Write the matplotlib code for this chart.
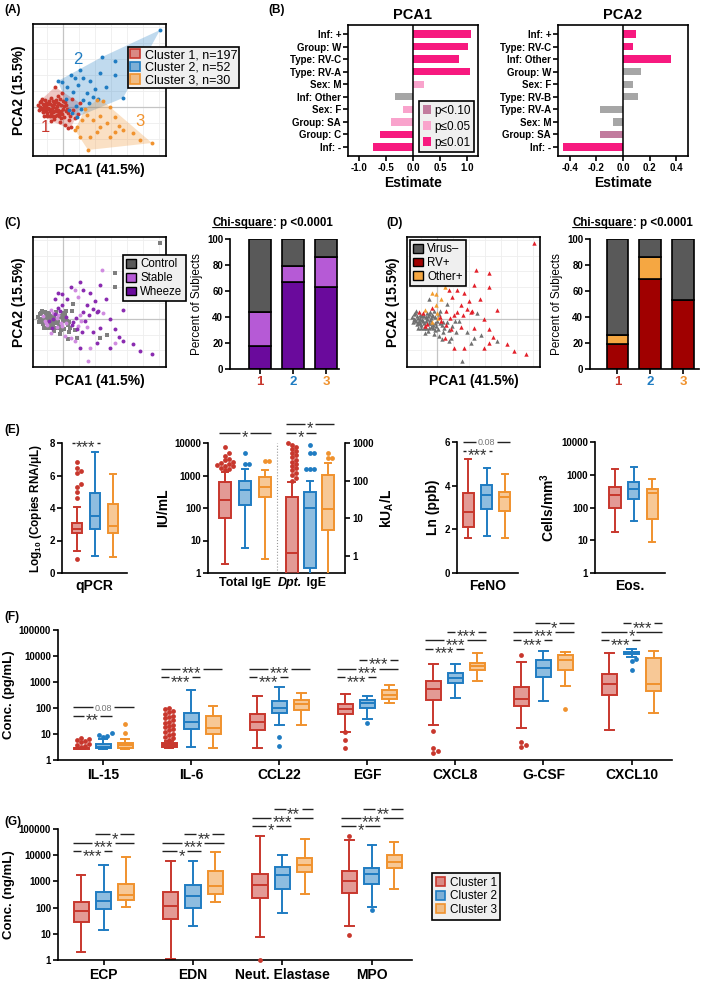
import matplotlib
matplotlib.use("Agg")
import matplotlib.pyplot as plt
import numpy as np
from matplotlib.patches import Patch
from matplotlib.colors import to_rgba
from matplotlib.ticker import NullLocator

plt.rcParams['font.family'] = ['Liberation Sans', 'DejaVu Sans']
plt.rcParams['font.weight'] = 'bold'
plt.rcParams['axes.labelweight'] = 'bold'
plt.rcParams['axes.titleweight'] = 'bold'
plt.rcParams['mathtext.fontset'] = 'custom'
plt.rcParams['mathtext.rm'] = 'Liberation Sans:bold'
plt.rcParams['mathtext.bf'] = 'Liberation Sans:bold'
plt.rcParams['mathtext.it'] = 'Liberation Sans:italic'
plt.rcParams['axes.linewidth'] = 1.2
for a in ('xtick', 'ytick'):
    plt.rcParams[a + '.major.width'] = 1.2
    plt.rcParams[a + '.major.size'] = 3.5
    plt.rcParams[a + '.major.pad'] = 1.5
    plt.rcParams[a + '.labelsize'] = 7

# ---------------- data ----------------
# PCA scores per cluster, with subject group (C/S/W) and virus (N/R/O) codes
c1_pc1 = [-2.5, -2.3, -2.2, -2.0, -1.9, -1.8, -1.7, -1.6, -1.5, -1.4, -1.3, -1.2, -1.1, -1.0, -0.9,
          -0.8, -0.7, -0.6, -0.5, -0.4, -0.3, -0.2, 0.0, 0.1, 0.2, 0.3, 0.5, 0.6, 0.8, 1.0,
          1.2, 1.5, -1.9, -0.1, 0.9, -1.2, -0.8, 1.7, 0.5,
          -2.4, -2.1, -1.8, -1.6, -1.4, -1.3, -1.1, -0.9, -0.8, -0.6, -0.5, -0.4, -0.2, -0.1, 0.2,
          0.4, -1.7, -2.0, -1.0, 0.7, -0.3,
          -2.3, -2.1, -1.9, -1.7, -1.5, -1.3, -1.2, -1.0, -0.8, -0.7, -0.5, -0.4, -0.2, 0.1, 0.3,
          -1.6, -1.1, -0.6, 0.0, -2.2]
c1_pc2 = [0.2, 0.5, -0.1, 0.3, -0.4, 0.7, 0.0, -0.6, 0.4, -0.2, -0.9, 0.9, 0.2, -0.5, -1.2,
          0.5, -0.1, -0.8, 1.1, 0.3, -1.5, -0.4, 0.6, -1.0, -1.8, 0.2, -0.6, -1.3, -2.0, -0.3,
          -1.1, -0.7, -0.9, 1.4, 0.8, -1.4, 2.0, 0.4, -2.1,
          -0.3, 0.8, -0.2, 0.3, 0.6, -0.4, -0.9, 0.3, -0.4, 0.1, -0.3, -0.9, 0.2, -0.7, 0.5,
          -0.2, 0.4, -0.5, 0.6, -0.9, 0.8,
          0.0, -0.2, 0.1, -0.4, -0.1, 0.3, -0.7, 0.0, -0.9, 0.7, 0.4, -0.6, -1.1, 0.1, -0.4,
          -0.9, -0.2, -0.4, -0.2, 0.6]
c1_grp = "CCCSCCCSCWCSCCCWCSWCCSCCSWCCSWCSCWCSWSC" "CCSCCCWCCSCCCSCCCCSCW" "CCCSCCCWCCSCCCSCCCCC"
c1_vir = "NNNNNRNNNNNONRNNNNRNNNONNRNNRNNNNORNNRN" "NNNNRNNNNNONNNNRNNNNN" "NNNNNNRNNNNNNONNNNNN"

c2_pc1 = [9.7, 3.9, 5.2, 1.7, 3.7, 5.2, 2.0, -0.1, 6.0, 0.8, 1.5, 2.7, 3.2, 0.4, 1.0,
          2.0, 2.6, 3.5, 0.3, 1.3, 1.8, 0.9, 4.3, 2.4, -0.5, 1.2, 0.6, 3.0, 1.4]
c2_pc2 = [7.7, 5.0, 4.6, 3.7, 3.4, 3.2, 2.9, 2.5, 0.9, 3.2, 2.2, 2.6, 1.8, 2.0, 1.5,
          0.7, 0.4, 0.8, 0.8, 0.1, -0.2, -0.6, 2.0, 1.4, 2.6, 2.9, -0.3, 1.0, -1.0]
c2_grp = "CSCWWCWWWWSWWWCWWWCWSWWWWSCWW"
c2_vir = "RRRORRRORORRRONRRRNRNRRRORNRR"

c3_pc1 = [8.9, 7.7, 2.5, 4.7, 3.4, 4.0, 5.2, 6.0, 5.2, 3.7, 3.4, 2.7, 1.7, 1.4, 1.9,
          2.4, 3.0, 3.7, 4.4, 4.7, 7.0, 1.2, 2.2, 5.6]
c3_pc2 = [-3.6, -3.3, -4.3, 0.0, 0.7, 0.6, -1.0, -2.3, -2.5, -2.0, -2.5, -3.0, -3.0, -2.0, -1.3,
          -0.8, -1.3, -0.9, -1.6, -3.0, -2.6, -2.3, -0.2, -1.9]
c3_grp = "WWSWWSWWSCWSWCWSWWCWWSWW"
c3_vir = "RRNRRNRNRNNRRNNRNRNRRNNR"

cluster_names = ['Cluster 1, n=197', 'Cluster 2, n=52', 'Cluster 3, n=30']

# (B) regression estimates
b_terms1 = ['Inf: +', 'Group: W', 'Type: RV-C', 'Type: RV-A', 'Sex: M', 'Inf: Other',
            'Sex: F', 'Group: SA', 'Group: C', 'Inf: -']
b_est1 = [1.07, 1.02, 0.85, 1.06, 0.20, -0.33, -0.19, -0.40, -0.61, -0.73]
b_sig1 = ['p01', 'p01', 'p01', 'p01', 'p05', 'ns', 'p05', 'p05', 'p01', 'p01']
b_terms2 = ['Inf: +', 'Type: RV-C', 'Inf: Other', 'Group: W', 'Sex: F', 'Type: RV-B',
            'Type: RV-A', 'Sex: M', 'Group: SA', 'Inf: -']
b_est2 = [0.10, 0.076, 0.36, 0.134, 0.076, 0.116, -0.17, -0.075, -0.17, -0.45]
b_sig2 = ['p01', 'p01', 'p01', 'ns', 'ns', 'ns', 'ns', 'ns', 'p10', 'p01']

# (C)/(D) percent of subjects per cluster
bar_ticks = ['1', '2', '3']
wheeze_pct = [18, 67, 63]
stable_pct = [26, 12, 23]
control_pct = [56, 21, 14]
rv_pct = [19, 69, 53]
other_pct = [7, 17, 0]
neg_pct = [74, 14, 47]

# (E) box stats: [whislo, q1, median, q3, whishi]
qpcr_stats = [[1.36, 2.44, 2.73, 3.1, 4.06], [1.05, 2.73, 3.5, 4.95, 7.45], [1.0, 2.44, 2.92, 4.23, 6.07]]
qpcr_fliers = [[0.88, 4.6, 4.98, 5.3, 5.45, 6.13, 6.28, 6.48, 6.85], [], []]
tige_stats = [[1.9, 49, 180, 630, 1300], [5.8, 120, 360, 700, 1550], [2.7, 215, 440, 900, 1500]]
tige_fliers = [[1500, 1600, 1700, 1900, 2000, 2100, 2300, 2500, 2600, 2900, 3300, 4000, 5000, 7500],
               [2200, 2200, 5000], [2700, 2700]]
dige_stats = [[0.1, 0.1, 1.2, 36, 90], [0.1, 0.47, 19, 51, 98], [0.1, 4.9, 18, 140, 300]]
dige_fliers = [[100, 120, 140, 160, 190, 220, 250, 280, 320, 360, 420, 480, 550, 620, 700, 800, 900, 1000],
               [200, 200, 200, 530, 530, 880], [400, 400, 530]]
feno_stats = [[1.61, 2.11, 2.8, 3.67, 5.2], [1.7, 2.94, 3.59, 4.05, 4.83], [1.61, 2.83, 3.47, 3.7, 4.53]]
eos_stats = [[18, 98, 240, 430, 1550], [39, 180, 355, 600, 1750], [9, 44, 280, 380, 720]]

# (F) cytokines, pg/mL
f_labels = ['IL-15', 'IL-6', 'CCL22', 'EGF', 'CXCL8', 'G-CSF', 'CXCL10']
f_stats = [
    [[2.6, 2.6, 2.8, 2.95, 3.0], [2.7, 2.8, 3.3, 4.0, 6.4], [2.7, 2.8, 3.8, 4.6, 6.4]],
    [[2.9, 3.1, 3.9, 4.6, 5.5], [3.1, 15.6, 30, 66, 490], [3.0, 10, 17.5, 49, 115]],
    [[3, 14, 30, 57, 300], [22, 62, 97, 190, 640], [23, 83, 140, 200, 380]],
    [[12.3, 58, 90, 142, 340], [39, 100, 150, 200, 290], [150, 215, 316, 480, 790]],
    [[23, 200, 520, 1130, 4800], [235, 890, 1380, 2300, 4800], [1070, 2800, 4200, 5500, 12700]],
    [[17.5, 120, 220, 660, 6000], [190, 1500, 3500, 6800, 15500], [720, 2800, 7000, 11000, 13900]],
    [[14, 316, 840, 2100, 12700], [9400, 11700, 13000, 14200, 19000], [66, 450, 840, 8600, 15500]],
]
f_fliers = [
    [[3.2, 3.5, 3.9, 4.3, 4.8, 5.3, 5.9, 6.5, 7.2], [7.5, 8.5, 9.5, 10.5], [11.2, 23.5]],
    [[6, 7, 8, 9, 10, 12, 14, 16, 18, 20, 23, 26, 30, 35, 40, 45, 50, 60, 70, 80, 90, 100], [], []],
    [[], [3.6, 7.8], []],
    [[3, 5.9, 11.5], [27], []],
    [[1.8, 2.3, 3, 13], [], []],
    [[3.1, 3.8, 4.8, 11000], [], [92]],
    [[], [2900, 6400, 7700], []],
]
# (group, first, last, label, y)
f_sig = [(0, 0, 2, '0.08', 105), (0, 0, 1, '**', 49),
         (1, 0, 2, '***', 3200), (1, 0, 1, '***', 1500),
         (2, 0, 2, '***', 3200), (2, 0, 1, '***', 1500),
         (3, 1, 2, '***', 7000), (3, 0, 2, '***', 3200), (3, 0, 1, '***', 1500),
         (4, 1, 2, '***', 85000), (4, 0, 2, '***', 40000), (4, 0, 1, '***', 19000),
         (5, 1, 2, '*', 180000), (5, 0, 2, '***', 85000), (5, 0, 1, '***', 40000),
         (6, 1, 2, '***', 180000), (6, 0, 2, '*', 85000), (6, 0, 1, '***', 40000)]

# (G) granule proteins, ng/mL
g_labels = ['ECP', 'EDN', 'Neut. Elastase', 'MPO']
g_stats = [
    [[2, 27, 71, 157, 1800], [14, 87, 180, 390, 4350], [104, 187, 290, 815, 8600]],
    [[1.1, 37, 117, 390, 6200], [19, 100, 270, 700, 6200], [157, 340, 690, 2400, 13000]],
    [[7.8, 230, 750, 2000, 52000], [61, 510, 1700, 3450, 10500], [330, 2200, 4350, 7900, 40000]],
    [[19, 360, 1000, 2400, 37000], [110, 815, 2000, 3250, 24000], [510, 3250, 5500, 10500, 31000]],
]
g_fliers = [[[], [], []], [[], [], []], [[1], [], []], [[9.1, 56000], [80], []]]
g_sig = [(0, 1, 2, '*', 62000), (0, 0, 2, '***', 30000), (0, 0, 1, '***', 14000),
         (1, 1, 2, '**', 62000), (1, 0, 2, '***', 30000), (1, 0, 1, '*', 14000),
         (2, 1, 2, '**', 560000), (2, 0, 2, '***', 270000), (2, 0, 1, '*', 128000),
         (3, 1, 2, '**', 560000), (3, 0, 2, '***', 270000), (3, 0, 1, '*', 128000)]

clus_cols = ['#c8372d', '#1f7cc2', '#f0922e']
sig_cols = {'ns': '#a6a6a6', 'p10': '#c27b9e', 'p05': '#f9a3cc', 'p01': '#f7197f'}

# ---------------- figure ----------------
W, H = 709, 984
fig = plt.figure(figsize=(W / 100, H / 100), dpi=100)
renderer = fig.canvas.get_renderer()


def box_px(x0, y0, x1, y1):
    return fig.add_axes([x0 / W, 1 - y1 / H, (x1 - x0) / W, (y1 - y0) / H])


def tag(x, y, s):
    fig.text(x / W, 1 - y / H, s, fontsize=8.5, va='center', ha='left')


def hull(x, y):
    pts = sorted(set(zip(x, y)))

    def cross(o, a, b):
        return (a[0] - o[0]) * (b[1] - o[1]) - (a[1] - o[1]) * (b[0] - o[0])
    lower, upper = [], []
    for p in pts:
        while len(lower) >= 2 and cross(lower[-2], lower[-1], p) <= 0:
            lower.pop()
        lower.append(p)
    for p in reversed(pts):
        while len(upper) >= 2 and cross(upper[-2], upper[-1], p) <= 0:
            upper.pop()
        upper.append(p)
    return np.array(lower[:-1] + upper[:-1])


def pca_frame(ax):
    ax.set_xlim(-3.0, 10.3)
    ax.set_ylim(-4.9, 8.3)
    ax.set_xticks([])
    ax.set_yticks([])
    for v in [-1.6, 1.6, 3.2, 4.8, 6.4, 8.0, 9.6]:
        ax.axvline(v, color='#eeeeee', lw=0.6, zorder=0)
    for v in [-3.2, -1.6, 1.6, 3.2, 4.8, 6.4, 8.0]:
        ax.axhline(v, color='#eeeeee', lw=0.6, zorder=0)
    ax.axvline(0, color='#c4c4c4', lw=0.9, zorder=0)
    ax.axhline(0, color='#c4c4c4', lw=0.9, zorder=0)
    ax.set_xlabel('PCA1 (41.5%)', fontsize=10, labelpad=5)
    ax.set_ylabel('PCA2 (15.5%)', fontsize=10, labelpad=5)


def legend_box(leg):
    leg.get_frame().set_linewidth(1.2)
    leg.get_frame().set_edgecolor('black')


clusters = [(c1_pc1, c1_pc2, c1_grp, c1_vir), (c2_pc1, c2_pc2, c2_grp, c2_vir),
            (c3_pc1, c3_pc2, c3_grp, c3_vir)]

# ---- (A)
tag(4, 10, '(A)')
axA = box_px(33, 24, 166, 156)
pca_frame(axA)
for (px, py, _, _), col in zip(clusters, clus_cols):
    h = hull(px, py)
    axA.fill(h[:, 0], h[:, 1], color=col, alpha=0.28, lw=0, zorder=1)
for (px, py, _, _), col in zip(clusters, clus_cols):
    axA.scatter(px, py, s=8, color=col, lw=0, zorder=3)
for s, (x, y), col in zip(['1', '2', '3'], [(-1.8, -2.1), (1.5, 4.7), (7.7, -1.5)], clus_cols):
    axA.text(x, y, s, color=col, fontsize=12, fontweight='normal', ha='center', va='center')
legA = fig.legend([Patch(fc=to_rgba(c, 0.55), ec=c, lw=1.2) for c in clus_cols], cluster_names,
                  loc='upper left', bbox_to_anchor=(128 / W, 1 - 47 / H),
                  prop={'weight': 'normal', 'size': 9}, fancybox=False, facecolor='#efefef',
                  framealpha=1, handlelength=0.8, handleheight=0.8, handletextpad=0.4,
                  borderpad=0.15, labelspacing=0.05, borderaxespad=0)
legend_box(legA)

# ---- (B)
tag(268, 10, '(B)')
for (x0, x1), terms, est, sig, title, lim, ticks in [
        ((348, 478), b_terms1, b_est1, b_sig1, 'PCA1', (-1.2, 1.2), [-1.0, -0.5, 0.0, 0.5, 1.0]),
        ((558, 688), b_terms2, b_est2, b_sig2, 'PCA2', (-0.49, 0.49), [-0.4, -0.2, 0.0, 0.2, 0.4])]:
    ax = box_px(x0, 25, x1, 156)
    ypos = np.arange(len(terms))[::-1]
    ax.barh(ypos, est, height=0.58, color=[sig_cols[s] for s in sig], lw=0)
    ax.axvline(0, color='black', lw=1.1)
    ax.set_ylim(-0.72, len(terms) - 0.28)
    ax.set_xlim(*lim)
    ax.set_yticks(ypos, terms)
    ax.set_xticks(ticks, [f'{t:.1f}' for t in ticks])
    ax.set_title(title, fontsize=10.5, pad=4)
    ax.set_xlabel('Estimate', fontsize=10, labelpad=2)
    if title == 'PCA1':
        legB = ax.legend([Patch(fc=sig_cols[k]) for k in ('p10', 'p05', 'p01')],
                         ['p<0.10', 'p≤0.05', 'p≤0.01'], loc='lower right',
                         prop={'weight': 'normal', 'size': 8.5}, fancybox=False,
                         facecolor='#efefef', framealpha=1, handlelength=0.7, handleheight=0.8,
                         handletextpad=0.3, borderpad=0.3, labelspacing=0.35, borderaxespad=0.3)
        legend_box(legB)


# ---- (C) and (D)
def pct_bars(ax, layers, colors, xlim):
    bottom = np.zeros(3)
    xs = np.arange(1, 4)
    for vals, col in zip(layers, colors):
        ax.bar(xs, vals, width=0.66, bottom=bottom, color=col, edgecolor='black', lw=1.2)
        bottom += np.array(vals)
    ax.set_ylim(0, 100)
    ax.set_xlim(*xlim)
    ax.set_yticks(range(0, 101, 20))
    ax.set_xticks(xs, bar_ticks, fontsize=9.5)
    for lab, col in zip(ax.get_xticklabels(), clus_cols):
        lab.set_color(col)
    for s in ('top', 'right'):
        ax.spines[s].set_visible(False)
    ax.set_ylabel('Percent of Subjects', fontsize=8.5, fontweight='normal', labelpad=3)
    t1 = ax.text(-0.16, 1.125, 'Chi-square', transform=ax.transAxes, fontsize=8.3, va='center', ha='left')
    ax.annotate(': p <0.0001', xy=(1, 0), xycoords=t1, fontsize=8.3, va='bottom', ha='left')
    ax.annotate('', xy=(0, 0.1), xycoords=t1, xytext=(1, 0.1), textcoords=t1,
                arrowprops=dict(arrowstyle='-', lw=0.8, shrinkA=0, shrinkB=0))


tag(4, 223, '(C)')
axC = box_px(33, 237, 166, 367)
pca_frame(axC)
grp_style = {'C': ('#7f7f7f', 's'), 'S': ('#d08be0', 'o'), 'W': ('#8a2bb0', 'o')}
for code in 'CSW':
    xs, ys = [], []
    for px, py, grp, _ in clusters:
        xs += [x for x, g in zip(px, grp) if g == code]
        ys += [y for y, g in zip(py, grp) if g == code]
    axC.scatter(xs, ys, s=8, color=grp_style[code][0], marker=grp_style[code][1], lw=0, zorder=3)
legC = fig.legend([Patch(fc=c, ec='black', lw=1.0) for c in ('#595959', '#b65ad6', '#6a0a9c')],
                  ['Control', 'Stable', 'Wheeze'], loc='upper left',
                  bbox_to_anchor=(123 / W, 1 - 255 / H), prop={'weight': 'normal', 'size': 8.3},
                  fancybox=False, facecolor='#efefef', framealpha=1, handlelength=0.8,
                  handleheight=0.8, handletextpad=0.4, borderpad=0.3, labelspacing=0.15,
                  borderaxespad=0)
legend_box(legC)
axCb = box_px(230, 239, 339, 369)
pct_bars(axCb, [wheeze_pct, stable_pct, control_pct], ['#6a0a9c', '#b65ad6', '#595959'], (0.09, 3.39))

tag(386, 223, '(D)')
axD = box_px(407, 237, 540, 367)
pca_frame(axD)
vir_style = {'N': '#707070', 'O': '#f39c2e', 'R': '#e3202a'}
for code in 'NOR':
    xs, ys = [], []
    for px, py, _, vir in clusters:
        xs += [x for x, g in zip(px, vir) if g == code]
        ys += [y for y, g in zip(py, vir) if g == code]
    axD.scatter(xs, ys, s=10, color=vir_style[code], marker='^', lw=0, zorder=3)
legD = axD.legend([Patch(fc=c, ec='black', lw=1.0) for c in ('#595959', '#a00000', '#f5a742')],
                  ['Virus–', 'RV+', 'Other+'], loc='upper left',
                  prop={'weight': 'normal', 'size': 8.3}, fancybox=False, facecolor='#efefef',
                  framealpha=1, handlelength=0.8, handleheight=0.8, handletextpad=0.4,
                  borderpad=0.3, labelspacing=0.15, borderaxespad=0.25)
legend_box(legD)
axDb = box_px(590, 239, 699, 369)
pct_bars(axDb, [rv_pct, other_pct, neg_pct], ['#a00000', '#f5a742', '#595959'], (0.16, 3.49))


# ---- box plot helpers
def swarm(ax, pos, vals, col, r=4.3):
    placed = []
    for v in sorted(vals):
        px, py = ax.transData.transform((pos, v))
        cx = px
        for k in (0, 1, -1, 2, -2, 3, -3, 4, -4, 5, -5):
            cx = px + k * r * 0.95
            if all((cx - qx) ** 2 + (py - qy) ** 2 >= (r * 0.9) ** 2 for qx, qy in placed):
                break
        placed.append((cx, py))
    xy = ax.transData.inverted().transform(np.array(placed))
    ax.scatter(xy[:, 0], xy[:, 1], s=12, color=col, lw=0, zorder=4, clip_on=False)


def draw_boxes(ax, stats, fliers, positions, width):
    for st, fl, p, col in zip(stats, fliers, positions, clus_cols):
        lo, q1, med, q3, hi = st
        lw = 1.4
        ax.bxp([dict(whislo=lo, q1=q1, med=med, q3=q3, whishi=hi, fliers=[])], positions=[p],
               widths=width, capwidths=width * 0.55, patch_artist=True, showfliers=False,
               manage_ticks=False,
               boxprops=dict(facecolor=to_rgba(col, 0.5), edgecolor=col, linewidth=lw),
               medianprops=dict(color=col, linewidth=lw),
               whiskerprops=dict(color=col, linewidth=lw), capprops=dict(color=col, linewidth=lw))
        if fl:
            swarm(ax, p, fl, col)


def sig(ax, x0, x1, y, label):
    # bracket line broken around the star / p-value text
    gray = label == '0.08'
    fs = 6.5 if gray else 12
    t = ax.annotate(label, (0.5 * (x0 + x1), y), xytext=(0, -0.36 * fs if gray else -0.56 * fs),
                    textcoords='offset points', ha='center', va='baseline', fontsize=fs,
                    fontweight='normal', color='#777777' if gray else '#333333',
                    annotation_clip=False)
    bb = t.get_window_extent(renderer)
    inv = ax.transData.inverted()
    xl = inv.transform((bb.x0 - 1.5, 0))[0]
    xr = inv.transform((bb.x1 + 1.5, 0))[0]
    for a, b in ((x0, xl), (xr, x1)):
        ax.plot([a, b], [y, y], color='#222222', lw=1.0, clip_on=False, solid_capstyle='butt')


def plain_axes(ax):
    for s in ('top', 'right'):
        ax.spines[s].set_visible(False)


def log_ticks(ax, lo_exp, hi_exp):
    ticks = [10 ** e for e in range(lo_exp, hi_exp + 1)]
    ax.set_yticks(ticks, [str(t) for t in ticks])
    ax.yaxis.set_minor_locator(NullLocator())


# ---- (E)
tag(4, 430, '(E)')
pos3 = [1, 2, 3]
axQ = box_px(62, 443, 127, 573)
plain_axes(axQ)
axQ.set_xlim(0.17, 3.78)
axQ.set_ylim(0, 8)
axQ.set_yticks([0, 2, 4, 6, 8])
axQ.set_xticks([])
draw_boxes(axQ, qpcr_stats, qpcr_fliers, pos3, 0.6)
sig(axQ, 0.7, 2.3, 8, '***')
axQ.set_ylabel('Log$_{10}$ (Copies RNA/μL)', fontsize=8.5, labelpad=4)
axQ.set_xlabel('qPCR', fontsize=10, labelpad=4)

axI = box_px(208, 443, 345, 573)
plain_axes(axI)
axI.set_xlim(0, 7.2)
axI.set_yscale('log')
axI.set_ylim(1, 10000)
log_ticks(axI, 0, 4)
axI.set_xticks([])
axI.axvline(3.63, color='#999999', lw=0.8, ls=':')
ax2 = axI.twinx()
ax2.set_yscale('log')
ax2.set_ylim(0.35, 1000)
log_ticks(ax2, 0, 3)
for s in ('top', 'left', 'bottom'):
    ax2.spines[s].set_visible(False)
pos_t = [0.9, 1.95, 3.0]
pos_d = [4.4, 5.35, 6.3]
draw_boxes(axI, tige_stats, tige_fliers, pos_t, 0.63)
draw_boxes(ax2, dige_stats, dige_fliers, pos_d, 0.63)
sig(axI, pos_t[0] - 0.32, pos_t[2] + 0.32, 20000, '*')
sig(ax2, pos_d[0] - 0.32, pos_d[2] + 0.32, 3200, '*')
sig(ax2, pos_d[0] - 0.32, pos_d[1] + 0.32, 1870, '*')
axI.set_ylabel('IU/mL', fontsize=10, labelpad=3)
ax2.set_ylabel('kU$_\\mathbf{A}$/L', fontsize=10, labelpad=4)
axI.text(0.27, -0.075, 'Total IgE', transform=axI.transAxes, fontsize=9, ha='center', va='center')
tD = axI.text(0.69, -0.075, 'Dpt.', transform=axI.transAxes, fontsize=9, style='italic',
              ha='right', va='center')
axI.annotate(' IgE', xy=(1, 0), xycoords=tD, fontsize=9, ha='left', va='bottom')

axF = box_px(457, 442, 518, 573)
plain_axes(axF)
axF.set_xlim(0.38, 3.71)
axF.set_ylim(0, 6)
axF.set_yticks([0, 2, 4, 6])
axF.set_xticks([])
draw_boxes(axF, feno_stats, [[], [], []], pos3, 0.6)
sig(axF, 0.7, 3.3, 6.0, '0.08')
sig(axF, 0.7, 2.3, 5.6, '***')
axF.set_ylabel('Ln (ppb)', fontsize=10, labelpad=3)
axF.set_xlabel('FeNO', fontsize=10, labelpad=4)

axE = box_px(595, 442, 665, 573)
plain_axes(axE)
axE.set_xlim(-0.07, 3.68)
axE.set_yscale('log')
axE.set_ylim(1, 10000)
log_ticks(axE, 0, 4)
axE.set_xticks([])
draw_boxes(axE, eos_stats, [[], [], []], pos3, 0.6)
axE.set_ylabel('Cells/mm$^\\mathbf{3}$', fontsize=10, labelpad=3)
axE.set_xlabel('Eos.', fontsize=10, labelpad=4)


# ---- (F) and (G)
def multi_panel(ax, labels, stats, fliers, sigs, xlim, ylabel):
    plain_axes(ax)
    ax.set_xlim(*xlim)
    ax.set_yscale('log')
    ax.set_ylim(1, 100000)
    log_ticks(ax, 0, 5)
    ax.set_xticks(range(len(labels)), labels, fontsize=10)
    ax.tick_params(axis='x', pad=2)
    offs = [-0.25, 0.0, 0.25]
    w = 0.17
    for g, (st, fl) in enumerate(zip(stats, fliers)):
        draw_boxes(ax, st, fl, [g + o for o in offs], w)
    for g, i, j, lab, y in sigs:
        sig(ax, g + offs[i] - w / 2 - 0.01, g + offs[j] + w / 2 + 0.01, y, lab)
    ax.set_ylabel(ylabel, fontsize=9.5, labelpad=3)


tag(4, 617, '(F)')
axFF = box_px(58, 630, 672, 760)
multi_panel(axFF, f_labels, f_stats, f_fliers, f_sig, (-0.515, 6.46), 'Conc. (pg/mL)')

tag(4, 822, '(G)')
axG = box_px(58, 829, 412, 960)
multi_panel(axG, g_labels, g_stats, g_fliers, g_sig, (-0.51, 3.45), 'Conc. (ng/mL)')
legG = fig.legend([Patch(fc=to_rgba(c, 0.55), ec=c, lw=1.2) for c in clus_cols],
                  ['Cluster 1', 'Cluster 2', 'Cluster 3'], loc='upper left',
                  bbox_to_anchor=(432 / W, 1 - 873 / H), prop={'weight': 'normal', 'size': 8.5},
                  fancybox=False, facecolor='#efefef', framealpha=1, handlelength=0.8,
                  handleheight=0.8, handletextpad=0.4, borderpad=0.3, labelspacing=0.15,
                  borderaxespad=0)
legend_box(legG)

fig.savefig('out.png', dpi=100)
